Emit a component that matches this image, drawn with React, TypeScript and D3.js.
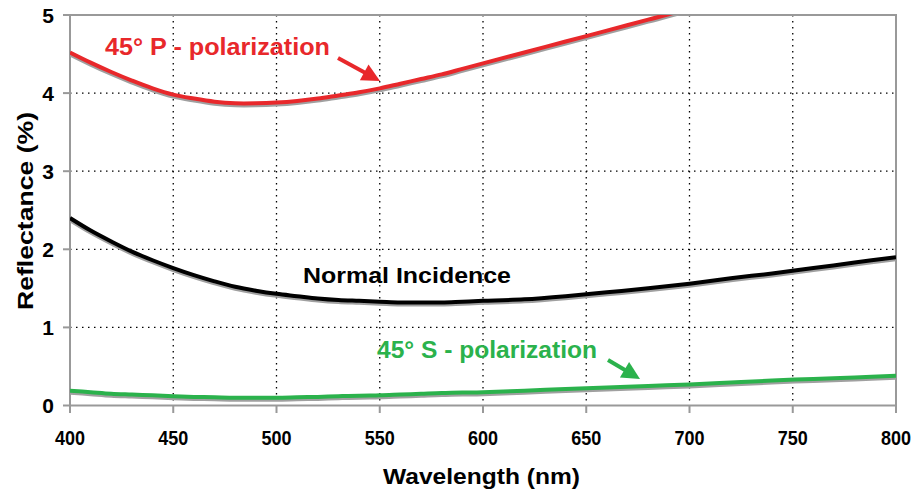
import React from "react";
import * as d3 from "d3";

const wavelengths = [400, 410, 420, 430, 440, 450, 460, 470, 480, 490, 500, 510, 520, 530, 540, 550, 560, 570, 580, 590, 600, 620, 640, 660, 680, 700, 720, 740, 760, 780, 800];
const pPol = [4.52, 4.39, 4.27, 4.16, 4.06, 3.98, 3.93, 3.89, 3.87, 3.87, 3.88, 3.9, 3.93, 3.97, 4.01, 4.06, 4.12, 4.18, 4.24, 4.31, 4.38, 4.52, 4.66, 4.8, 4.94, 5.08, 5.2, 5.3, 5.4, 5.5, 5.6];
const normal = [2.4, 2.24, 2.1, 1.97, 1.86, 1.76, 1.67, 1.59, 1.52, 1.47, 1.43, 1.4, 1.37, 1.35, 1.34, 1.33, 1.32, 1.32, 1.32, 1.33, 1.34, 1.36, 1.4, 1.45, 1.5, 1.56, 1.63, 1.69, 1.76, 1.83, 1.9];
const sPol = [0.19, 0.17, 0.15, 0.14, 0.13, 0.12, 0.11, 0.105, 0.1, 0.1, 0.1, 0.105, 0.11, 0.12, 0.125, 0.13, 0.14, 0.15, 0.16, 0.165, 0.17, 0.19, 0.21, 0.23, 0.25, 0.27, 0.295, 0.32, 0.34, 0.36, 0.38];
const xTicks = [400, 450, 500, 550, 600, 650, 700, 750, 800];
const yTicks = [0, 1, 2, 3, 4, 5];

const RED = "#e8282b";
const GREEN = "#2bb24c";
const FONT = "'Liberation Sans', Arial, Helvetica, sans-serif";

export default function App() {
  const W = 913, H = 493;
  const x = d3.scaleLinear().domain([400, 800]).range([70, 896]);
  const y = d3.scaleLinear().domain([0, 5]).range([405.5, 15]);
  const mk = (vals: number[]) =>
    d3.line<number>().x((_, i) => x(wavelengths[i])).y((v) => y(v)).curve(d3.curveCatmullRom)(vals) || "";
  const series = [
    { vals: pPol, color: RED },
    { vals: normal, color: "#000" },
    { vals: sPol, color: GREEN },
  ];
  const arrow = (x1: number, y1: number, x2: number, y2: number, color: string) => {
    const ang = Math.atan2(y2 - y1, x2 - x1);
    const hl = 18, hw = 9;
    const bx = x2 - hl * Math.cos(ang), by = y2 - hl * Math.sin(ang);
    const px = -Math.sin(ang) * hw, py = Math.cos(ang) * hw;
    return (
      <g>
        <line x1={x1} y1={y1} x2={bx + 1 * Math.cos(ang)} y2={by + 1 * Math.sin(ang)} stroke={color} strokeWidth={4} />
        <polygon points={`${x2},${y2} ${bx + px},${by + py} ${bx - px},${by - py}`} fill={color} />
      </g>
    );
  };
  return (
    <svg width={W} height={H} style={{ position: "absolute", left: 0, top: 0, background: "#fff" }} fontFamily={FONT}>
      <defs>
        <clipPath id="plot">
          <rect x={70} y={15} width={826} height={391} />
        </clipPath>
      </defs>
      {/* grid */}
      {xTicks.slice(1, -1).map((t) => (
        <line key={"gx" + t} x1={x(t)} x2={x(t)} y1={y(5)} y2={y(0)} stroke="#000" strokeWidth={1.3} strokeDasharray="1.5,4.5" />
      ))}
      {yTicks.slice(1, -1).map((t) => (
        <line key={"gy" + t} x1={x(400)} x2={x(800)} y1={y(t)} y2={y(t)} stroke="#000" strokeWidth={1.3} strokeDasharray="1.5,4.5" />
      ))}
      {/* frame */}
      <rect x={70} y={15} width={826} height={390.5} fill="none" stroke="#999" strokeWidth={2} />
      {xTicks.map((t) => (
        <line key={"tx" + t} x1={x(t)} x2={x(t)} y1={405.5} y2={413} stroke="#999" strokeWidth={2} />
      ))}
      {yTicks.map((t) => (
        <line key={"ty" + t} x1={63} x2={70} y1={y(t)} y2={y(t)} stroke="#999" strokeWidth={2} />
      ))}
      {/* curves */}
      <g clipPath="url(#plot)">
        {series.map((s, i) => (
          <path key={"sh" + i} d={mk(s.vals)} fill="none" stroke="#a0a0a0" strokeWidth={4} transform="translate(0,2)" />
        ))}
        {series.map((s, i) => (
          <path key={"ln" + i} d={mk(s.vals)} fill="none" stroke={s.color} strokeWidth={4} />
        ))}
      </g>
      {/* tick labels */}
      {xTicks.map((t) => (
        <text key={"lx" + t} x={x(t)} y={445} textAnchor="middle" fontSize={20} fontWeight="bold" transform={`translate(${x(t)},0) scale(0.9,1) translate(${-x(t)},0)`}>
          {t}
        </text>
      ))}
      {yTicks.map((t) => (
        <text key={"ly" + t} x={54} y={y(t) + 7.5} textAnchor="end" fontSize={21} fontWeight="bold">
          {t}
        </text>
      ))}
      <text x={383} y={484} fontSize={22} fontWeight="bold" textLength={197} lengthAdjust="spacingAndGlyphs">Wavelength (nm)</text>
      <text transform="translate(33,310) rotate(-90)" fontSize={22} fontWeight="bold" textLength={198} lengthAdjust="spacingAndGlyphs">Reflectance (%)</text>
      {/* annotations */}
      <text x={105} y={55} fontSize={23} fontWeight="bold" fill={RED} textLength={225} lengthAdjust="spacingAndGlyphs">45° P - polarization</text>
      {arrow(338, 58, 380, 81, RED)}
      <text x={303} y={283} fontSize={22} fontWeight="bold" fill="#000" textLength={208} lengthAdjust="spacingAndGlyphs">Normal Incidence</text>
      <text x={377} y={358} fontSize={23} fontWeight="bold" fill={GREEN} textLength={220} lengthAdjust="spacingAndGlyphs">45° S - polarization</text>
      {arrow(608, 360, 640, 379, GREEN)}
    </svg>
  );
}
